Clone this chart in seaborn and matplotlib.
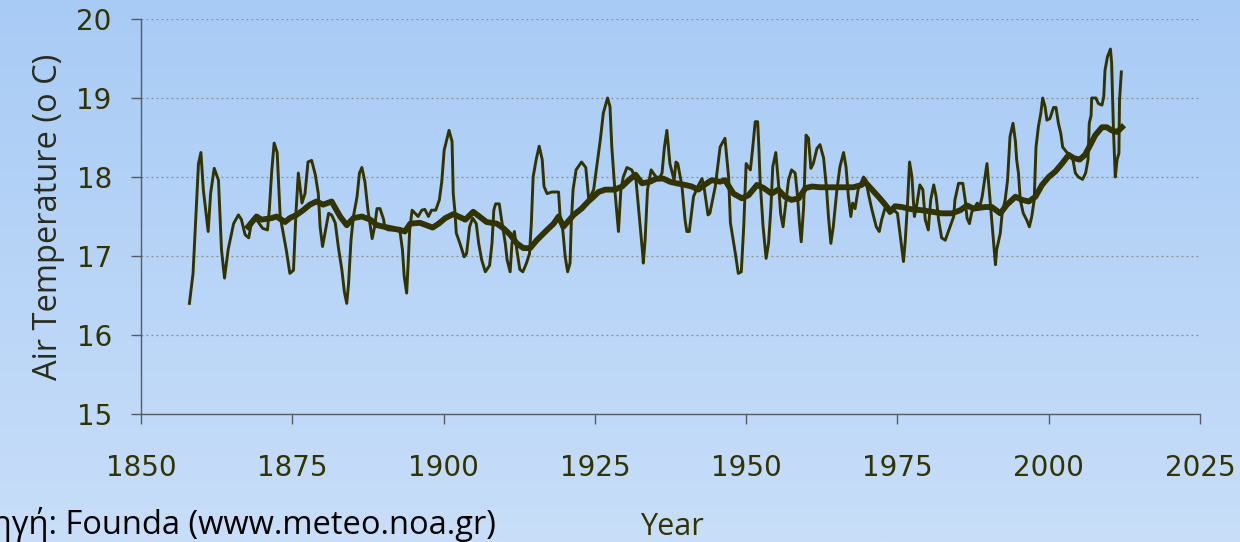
import numpy as np
import pandas as pd
import matplotlib
matplotlib.use("Agg")
import matplotlib.pyplot as plt
import seaborn as sns

# -------------------------------
# Data
# -------------------------------

# annual air temperature, Athens (thin line)
years = [
    1858.0, 1858.6, 1859.5, 1859.9, 1860.3, 1861.1, 1861.5, 1862.1, 1862.8, 1863.3,
    1863.8, 1864.4, 1865.3, 1866.1, 1866.6, 1867.2, 1867.8, 1868.3, 1869.1, 1870.1,
    1870.9, 1871.2, 1871.6, 1872.0, 1872.5, 1873.0, 1874.0, 1874.6, 1875.2, 1875.6,
    1876.0, 1876.6, 1877.1, 1877.6, 1878.2, 1878.8, 1879.3, 1879.6, 1880.0, 1880.4,
    1881.0, 1881.5, 1882.1, 1882.6, 1883.2, 1883.6, 1884.0, 1884.3, 1884.7, 1885.1,
    1885.7, 1886.1, 1886.5, 1887.0, 1887.5, 1887.9, 1888.2, 1888.6, 1889.0, 1889.5,
    1890.1, 1890.3, 1890.9, 1892.0, 1892.8, 1893.2, 1893.5, 1893.9, 1894.2, 1894.4,
    1894.8, 1895.3, 1895.8, 1896.4, 1896.9, 1897.5, 1898.0, 1898.7, 1899.3, 1899.7,
    1900.1, 1900.9, 1901.4, 1901.6, 1901.9, 1902.1, 1902.7, 1903.4, 1903.8, 1904.3,
    1904.8, 1905.4, 1905.8, 1906.3, 1906.9, 1907.6, 1908.0, 1908.3, 1908.6, 1909.2,
    1909.6, 1910.2, 1910.5, 1911.0, 1911.3, 1911.7, 1912.1, 1912.6, 1913.1, 1913.7,
    1914.2, 1914.5, 1914.8, 1915.3, 1915.8, 1916.3, 1916.6, 1917.1, 1917.9, 1919.0,
    1919.3, 1919.7, 1920.1, 1920.5, 1920.9, 1921.1, 1921.4, 1921.9, 1922.8, 1923.5,
    1924.0, 1924.8, 1925.9, 1926.4, 1927.1, 1927.5, 1927.8, 1928.3, 1928.9, 1929.3,
    1929.7, 1930.3, 1931.1, 1931.8, 1932.2, 1932.9, 1933.0, 1933.3, 1933.7, 1934.3,
    1935.1, 1935.5, 1936.1, 1936.5, 1936.9, 1937.4, 1938.1, 1938.4, 1938.7, 1939.4,
    1939.9, 1940.2, 1940.6, 1941.3, 1942.0, 1942.7, 1943.1, 1943.7, 1944.0, 1944.9,
    1945.7, 1946.5, 1947.1, 1947.4, 1948.2, 1948.7, 1949.2, 1949.6, 1950.0, 1950.7,
    1951.1, 1951.5, 1951.9, 1952.1, 1952.3, 1952.8, 1953.3, 1953.7, 1954.1, 1954.4,
    1954.9, 1955.3, 1955.7, 1956.1, 1956.3, 1957.0, 1957.5, 1958.1, 1958.5, 1958.8,
    1959.1, 1959.5, 1959.9, 1960.3, 1960.7, 1961.1, 1961.7, 1962.2, 1962.8, 1963.3,
    1963.6, 1964.0, 1964.4, 1965.0, 1965.5, 1966.1, 1966.5, 1966.9, 1967.3, 1967.6,
    1968.0, 1968.5, 1969.4, 1969.8, 1970.2, 1970.8, 1971.5, 1972.0, 1972.4, 1973.0,
    1973.7, 1974.4, 1975.0, 1975.5, 1976.0, 1976.3, 1976.7, 1977.0, 1977.4, 1977.8,
    1978.1, 1978.7, 1979.2, 1979.6, 1980.1, 1980.5, 1981.0, 1981.4, 1981.8, 1982.3,
    1982.9, 1983.7, 1984.3, 1984.5, 1985.1, 1985.8, 1986.2, 1986.5, 1986.9, 1987.3,
    1988.2, 1988.6, 1989.0, 1989.8, 1990.4, 1991.2, 1991.4, 1992.0, 1992.3, 1992.8,
    1993.2, 1993.6, 1994.1, 1994.5, 1994.7, 1995.0, 1995.3, 1995.8, 1996.4, 1996.8,
    1997.2, 1997.6, 1997.9, 1998.3, 1998.7, 1999.0, 1999.4, 1999.7, 2000.2, 2000.8,
    2001.2, 2001.6, 2002.0, 2002.3, 2002.9, 2003.5, 2004.0, 2004.4, 2004.9, 2005.6,
    2006.1, 2006.5, 2006.7, 2007.0, 2007.1, 2007.8, 2008.2, 2008.8, 2009.1, 2009.3,
    2009.7, 2010.2, 2010.4, 2010.7, 2011.0, 2011.3, 2011.6, 2011.7, 2012.0,
]
temps = [
    16.40, 16.78, 18.17, 18.31, 17.84, 17.31, 17.79, 18.11, 17.96, 17.08,
    16.72, 17.08, 17.41, 17.52, 17.46, 17.27, 17.23, 17.44, 17.46, 17.35,
    17.33, 17.58, 18.07, 18.43, 18.31, 17.50, 17.08, 16.78, 16.82, 17.54,
    18.05, 17.67, 17.79, 18.19, 18.21, 18.03, 17.79, 17.37, 17.12, 17.29,
    17.54, 17.52, 17.42, 17.12, 16.82, 16.55, 16.40, 16.65, 17.20, 17.50,
    17.75, 18.05, 18.12, 17.94, 17.58, 17.37, 17.22, 17.37, 17.60, 17.60,
    17.46, 17.35, 17.33, 17.33, 17.31, 17.08, 16.74, 16.53, 16.99, 17.33,
    17.58, 17.54, 17.50, 17.58, 17.59, 17.50, 17.58, 17.58, 17.71, 17.94,
    18.34, 18.59, 18.45, 17.79, 17.54, 17.29, 17.16, 16.99, 17.03, 17.37,
    17.48, 17.41, 17.16, 16.95, 16.80, 16.88, 17.16, 17.58, 17.66, 17.66,
    17.45, 17.16, 16.95, 16.80, 17.16, 17.31, 17.08, 16.83, 16.80, 16.91,
    17.03, 17.41, 18.00, 18.22, 18.39, 18.22, 17.88, 17.79, 17.81, 17.81,
    17.45, 17.33, 16.99, 16.80, 16.91, 17.41, 17.84, 18.09, 18.19, 18.12,
    17.71, 17.84, 18.47, 18.81, 19.00, 18.89, 18.38, 17.84, 17.31, 17.84,
    18.00, 18.12, 18.09, 17.96, 17.62, 17.03, 16.91, 17.20, 17.84, 18.09,
    18.00, 17.96, 18.05, 18.38, 18.59, 18.17, 17.96, 18.19, 18.17, 17.88,
    17.46, 17.31, 17.31, 17.75, 17.88, 17.98, 17.84, 17.52, 17.54, 17.88,
    18.38, 18.49, 18.00, 17.42, 17.04, 16.78, 16.80, 17.37, 18.17, 18.09,
    18.38, 18.70, 18.70, 18.38, 17.96, 17.37, 16.97, 17.16, 17.62, 18.13,
    18.31, 17.96, 17.54, 17.37, 17.50, 17.96, 18.09, 18.05, 17.75, 17.42,
    17.18, 17.62, 18.53, 18.49, 18.11, 18.17, 18.36, 18.41, 18.24, 17.84,
    17.50, 17.16, 17.37, 17.84, 18.13, 18.31, 18.13, 17.75, 17.50, 17.67,
    17.60, 17.84, 18.00, 17.96, 17.79, 17.58, 17.37, 17.31, 17.46, 17.62,
    17.54, 17.58, 17.54, 17.24, 16.93, 17.20, 17.71, 18.19, 18.00, 17.50,
    17.60, 17.90, 17.84, 17.46, 17.33, 17.71, 17.90, 17.75, 17.46, 17.23,
    17.20, 17.37, 17.50, 17.71, 17.92, 17.92, 17.71, 17.48, 17.41, 17.56,
    17.67, 17.62, 17.75, 18.17, 17.62, 16.89, 17.08, 17.29, 17.54, 17.71,
    17.96, 18.51, 18.68, 18.45, 18.22, 18.05, 17.71, 17.54, 17.45, 17.37,
    17.50, 17.71, 18.38, 18.64, 18.81, 19.00, 18.89, 18.72, 18.74, 18.88,
    18.88, 18.68, 18.55, 18.38, 18.32, 18.28, 18.22, 18.05, 18.00, 17.97,
    18.05, 18.22, 18.68, 18.78, 19.00, 19.00, 18.93, 18.91, 19.02, 19.35,
    19.52, 19.62, 19.44, 18.59, 18.00, 18.22, 18.30, 18.97, 19.33,
]

# smoothed series (thick line)
smooth_years = [
    1867.7, 1869.1, 1869.9, 1871.6, 1872.4, 1873.8, 1874.6, 1875.7, 1876.8, 1877.9,
    1879.0, 1880.1, 1881.5, 1882.9, 1884.0, 1885.1, 1886.5, 1887.9, 1889.0, 1891.4,
    1892.8, 1893.6, 1894.5, 1896.1, 1898.2, 1899.2, 1900.3, 1901.6, 1903.6, 1904.9,
    1907.1, 1908.8, 1909.9, 1911.0, 1912.1, 1913.2, 1914.3, 1915.4, 1917.1, 1918.2,
    1919.0, 1919.8, 1921.5, 1922.8, 1923.9, 1924.5, 1925.6, 1926.7, 1928.3, 1929.5,
    1930.6, 1931.7, 1932.8, 1934.1, 1935.2, 1936.3, 1937.4, 1938.5, 1939.9, 1941.0,
    1942.1, 1943.1, 1944.3, 1945.7, 1946.5, 1947.9, 1949.3, 1950.4, 1951.8, 1952.9,
    1954.2, 1955.3, 1956.4, 1957.5, 1958.7, 1959.8, 1960.9, 1962.2, 1965.6, 1967.7,
    1969.1, 1969.6, 1970.8, 1972.1, 1973.3, 1973.8, 1974.6, 1975.7, 1977.4, 1979.0,
    1980.7, 1982.3, 1984.0, 1985.4, 1986.5, 1987.6, 1989.5, 1990.6, 1992.0, 1993.1,
    1994.5, 1995.6, 1996.7, 1997.8, 1998.9, 2000.0, 2001.1, 2002.2, 2003.3, 2004.1,
    2005.1, 2006.0, 2006.9, 2007.7, 2008.8, 2009.6, 2010.4, 2011.3, 2012.1,
]
smooth_temps = [
    17.37, 17.50, 17.46, 17.48, 17.50, 17.43, 17.48, 17.52, 17.58, 17.65,
    17.69, 17.65, 17.69, 17.50, 17.39, 17.48, 17.50, 17.46, 17.39, 17.35,
    17.33, 17.31, 17.41, 17.42, 17.36, 17.41, 17.48, 17.53, 17.46, 17.56,
    17.43, 17.41, 17.35, 17.27, 17.16, 17.10, 17.10, 17.20, 17.33, 17.41,
    17.50, 17.37, 17.52, 17.60, 17.69, 17.73, 17.81, 17.84, 17.84, 17.88,
    17.96, 18.03, 17.92, 17.94, 17.98, 17.98, 17.94, 17.92, 17.90, 17.88,
    17.84, 17.90, 17.96, 17.94, 17.96, 17.79, 17.73, 17.77, 17.90, 17.86,
    17.79, 17.84, 17.75, 17.71, 17.73, 17.86, 17.88, 17.87, 17.87, 17.87,
    17.90, 17.94, 17.84, 17.73, 17.62, 17.56, 17.63, 17.62, 17.59, 17.58,
    17.56, 17.54, 17.54, 17.58, 17.64, 17.60, 17.62, 17.62, 17.54, 17.65,
    17.75, 17.71, 17.69, 17.75, 17.90, 18.00, 18.07, 18.17, 18.28, 18.24,
    18.22, 18.28, 18.41, 18.53, 18.63, 18.63, 18.59, 18.57, 18.63,
]

x_ticks = [1850, 1875, 1900, 1925, 1950, 1975, 2000, 2025]
y_ticks = [15, 16, 17, 18, 19, 20]

annual = pd.DataFrame({"year": years, "temp": temps})
smooth = pd.DataFrame({"year": smooth_years, "temp": smooth_temps})

# -------------------------------
# Figure
# -------------------------------

LINE = "#333300"
TEXT_FONT = ["Open Sans", "DejaVu Sans"]

fig = plt.figure(figsize=(12.4, 5.42), dpi=100)

# blue gradient background
bg = fig.add_axes([0, 0, 1, 1], zorder=-10)
top = np.array([168, 203, 245]) / 255
bottom = np.array([200, 222, 249]) / 255
t = np.linspace(0, 1, 256)[:, None, None]
grad = top * (1 - t) + bottom * t
bg.imshow(np.repeat(grad, 2, axis=1), aspect="auto", extent=[0, 1, 0, 1])
bg.set_axis_off()

ax = fig.add_axes([141 / 1240, 1 - 414 / 542, (1200 - 141) / 1240, (414 - 19) / 542])
ax.set_facecolor("none")

sns.lineplot(data=annual, x="year", y="temp", ax=ax, color=LINE, lw=2.1,
             estimator=None, sort=False)
sns.lineplot(data=smooth, x="year", y="temp", ax=ax, color=LINE, lw=4.2,
             estimator=None, sort=False)

ax.set_xlim(1850, 2025)
ax.set_ylim(15, 20)
ax.set_xticks(x_ticks)
ax.set_yticks(y_ticks)

ax.grid(axis="y", linestyle=(0, (1.5, 2.5)), color="#8a8f86", lw=0.9)
ax.grid(axis="x", visible=False)

for side in ["top", "right"]:
    ax.spines[side].set_visible(False)
for side in ["left", "bottom"]:
    ax.spines[side].set_color("#555b60")
    ax.spines[side].set_linewidth(1.0)

ax.tick_params(axis="x", direction="out", length=7, width=1, color="#555b60",
               pad=22, labelsize=20, labelcolor=LINE)
ax.tick_params(axis="y", direction="out", length=7, width=1, color="#555b60",
               pad=14, labelsize=20, labelcolor=LINE)

ax.set_xlabel("")
ax.set_ylabel("Air Temperature (o C)", fontsize=23.5, family=TEXT_FONT,
              color="#2b2b1a", labelpad=8)

fig.text(672 / 1240, 1 - 527 / 542, "Year", fontsize=22, family=TEXT_FONT,
         color=LINE, ha="center", va="center")
fig.text(496 / 1240, 1 - 524 / 542, "Πηγή: Founda (www.meteo.noa.gr)", fontsize=23.5,
         family=TEXT_FONT, color="black", ha="right", va="center")

fig.savefig("out.png", dpi=100)
plt.close(fig)
